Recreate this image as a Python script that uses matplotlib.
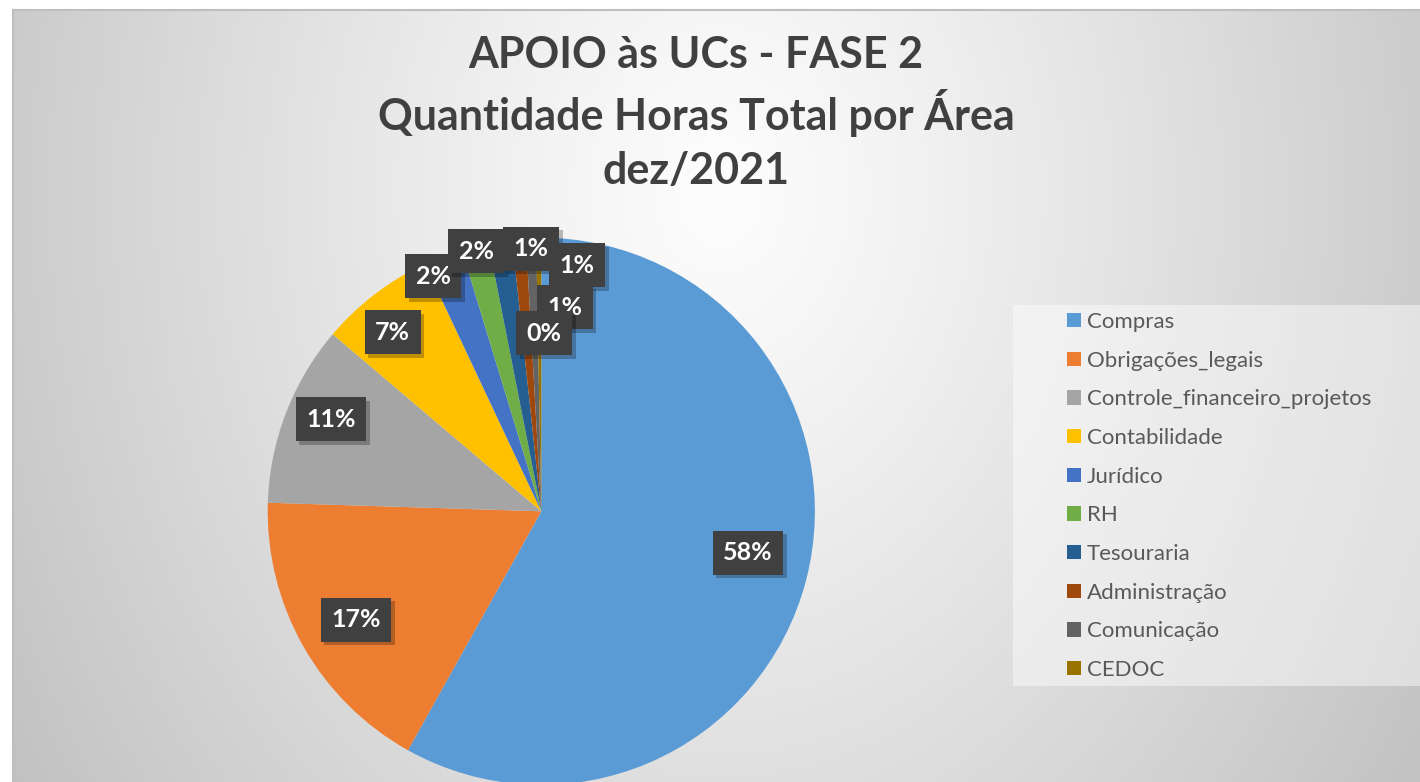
import numpy as np
import matplotlib
matplotlib.use("Agg")
import matplotlib.pyplot as plt
from matplotlib.patches import Patch, Rectangle
import matplotlib.patheffects as pe

# ---- data ----
categories = ["Compras", "Obrigações_legais", "Controle_financeiro_projetos",
              "Contabilidade", "Jurídico", "RH", "Tesouraria",
              "Administração", "Comunicação", "CEDOC"]
hours_pct = [58.1, 17.4, 10.7, 6.8, 2.3, 1.6, 1.4, 0.8, 0.6, 0.3]
colors = ["#5B9BD5", "#ED7D31", "#A5A5A5", "#FFC000", "#4472C4",
          "#70AD47", "#255E91", "#9E480E", "#636363", "#997300"]
title_lines = ["APOIO às UCs - FASE 2", "Quantidade Horas Total por Área", "dez/2021"]

# ---- layout (label positions in pie-radius units from the pie centre) ----
label_xy = [(0.755, -0.152), (-0.677, -0.397), (-0.769, 0.337), (-0.543, 0.655),
            (-0.395, 0.859), (-0.238, 0.950), (-0.037, 0.959), (0.132, 0.899),
            (0.085, 0.746), (0.010, 0.650)]

W, H = 1420, 782
plt.rcParams['font.family'] = ['Lato', 'DejaVu Sans']
fig = plt.figure(figsize=(W / 100, H / 100), dpi=100)
fig.patch.set_facecolor('white')

# background gradient (chart area)
bx0, by_top = 13, 10
bg = fig.add_axes([bx0 / W, 0, 1 - bx0 / W, 1 - by_top / H], zorder=-10)
xs = np.linspace(bx0, W, 400)
ys = np.linspace(by_top, H, 240)
X, Y = np.meshgrid(xs, ys)
t = np.sqrt(((X - 720) / 850) ** 2 + ((Y - 190) / 1100) ** 2)
t = np.clip(t, 0, 1)
v = (253 - 60 * t ** 1.15) / 255
img = np.dstack([v, v, v])
bg.imshow(img, extent=(0, 1, 0, 1), aspect='auto', origin='upper')
bg.set_xlim(0, 1)
bg.set_ylim(0, 1)
bg.set_xticks([])
bg.set_yticks([])
for s in ['bottom', 'right']:
    bg.spines[s].set_visible(False)
for s in ['top', 'left']:
    bg.spines[s].set_color('#BEBEBE')
    bg.spines[s].set_linewidth(1.5)

# legend background
fig.patches.append(Rectangle((1013 / W, 1 - 686 / H), (W - 1013) / W, (686 - 305) / H,
                             transform=fig.transFigure, facecolor='white',
                             alpha=0.45, edgecolor='none', zorder=-5))

# pie
cx, cy, R = 541.3, 511.3, 273.6
ax = fig.add_axes([(cx - R) / W, (H - cy - R) / H, 2 * R / W, 2 * R / H])
wedges, _ = ax.pie(hours_pct, colors=colors, startangle=90, counterclock=False,
                   radius=1.0, wedgeprops=dict(linewidth=0))
ax.set_xlim(-1, 1)
ax.set_ylim(-1, 1)
ax.set_aspect('auto')
ax.axis('off')

total = sum(hours_pct)
for val, (lx, ly) in zip(hours_pct, label_xy):
    txt = ax.text(lx, ly, f"{round(val / total * 100):d}%", ha='center', va='center',
                  color='white', fontsize=18, fontweight='bold', zorder=5,
                  bbox=dict(boxstyle='square,pad=0.42', facecolor='#404040',
                            edgecolor='none', linewidth=0))
    txt.get_bbox_patch().set_path_effects([
        pe.SimplePatchShadow(offset=(2.5, -2.5), shadow_rgbFace='black', alpha=0.25),
        pe.Normal()])

# title
title_y = [55, 113, 171]
for line, yy in zip(title_lines, title_y):
    fig.text(696 / W, 1 - yy / H, line, ha='center', va='center', fontsize=31,
             fontweight='bold', color='#404040')

# legend
handles = [Patch(facecolor=c, edgecolor='none') for c in colors]
fig.legend(handles, categories, loc='center left',
           bbox_to_anchor=(1067 / W, 1 - 496 / H), frameon=False,
           fontsize=16, labelcolor='#595959', handlelength=0.63, handleheight=0.63,
           handletextpad=0.27, labelspacing=0.84, borderpad=0, borderaxespad=0)

fig.savefig('out.png', dpi=100)
